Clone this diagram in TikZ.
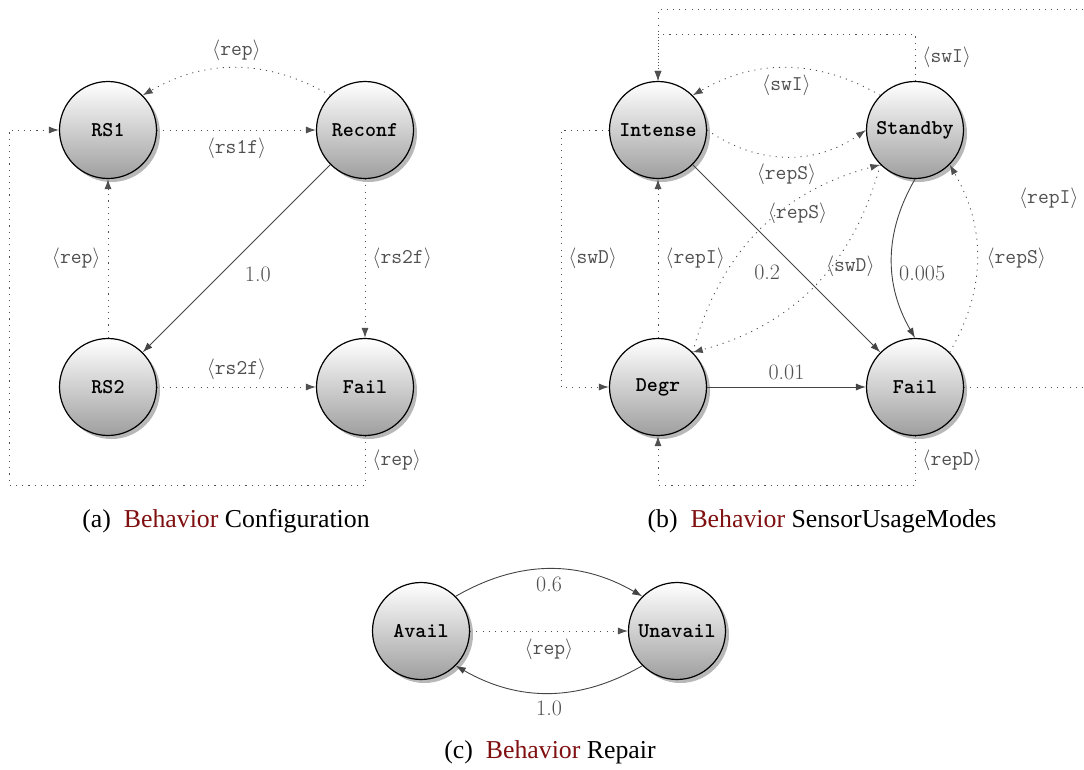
\documentclass[tikz,border=0pt]{standalone}
\usepackage{fontspec}
\newfontfamily\capfont{Liberation Serif}
\usetikzlibrary{arrows.meta,shadows}

\definecolor{behred}{RGB}{128,16,16}
\definecolor{edgegray}{RGB}{68,68,68}
\definecolor{lblgray}{RGB}{80,80,80}

\newcommand\lbfont{\fontsize{21}{25}\selectfont}
\newcommand\numfont{\fontsize{22}{26}\selectfont}
\newcommand\actlbl[1]{$\langle$\texttt{#1}$\rangle$}

\tikzset{
  state/.style={circle, draw=black, line width=1.2pt, minimum size=97pt, inner sep=0pt,
    top color=white, bottom color=black!38,
    drop shadow={shadow xshift=3.5pt, shadow yshift=-3.5pt, fill=black!28, opacity=1},
    font=\lbfont\ttfamily\bfseries},
  prob/.style={draw=edgegray, line width=0.9pt, -{Latex[length=10pt,width=7pt]}},
  act/.style={prob, draw=lblgray, dash pattern=on 1.1pt off 5.1pt},
  lbl/.style={text=lblgray, font=\lbfont, inner sep=7pt},
  num/.style={lbl, font=\numfont},
  captext/.style={font=\capfont\fontsize{25.8}{30}\selectfont, anchor=base},
}

\begin{document}
\begin{tikzpicture}[x=1pt, y=1pt]
\useasboundingbox (0,0) rectangle (1084,-769);
\clip (0,0) rectangle (1084,-769);

% ---------- (a) Configuration ----------
\node[state] (rs1)    at (108,-130) {RS1};
\node[state] (reconf) at (365,-130) {Reconf};
\node[state] (rs2)    at (108,-387) {RS2};
\node[state] (faila)  at (365,-387) {Fail};

\draw[act] (reconf.north west) to[bend right=30] node[lbl, above] {\actlbl{rep}} (rs1.north east);
\draw[act] (rs1) -- node[lbl, below] {\actlbl{rs1f}} (reconf);
\draw[prob] (reconf) -- node[num, below right, inner sep=8pt] {1.0} (rs2);
\draw[act] (reconf) -- node[lbl, right] {\actlbl{rs2f}} (faila);
\draw[act] (rs2) -- node[lbl, left] {\actlbl{rep}} (rs1);
\draw[act] (rs2) -- node[lbl, above] {\actlbl{rs2f}} (faila);
\coordinate (a1) at (365,-485);
\coordinate (a2) at (9,-485);
\draw[act] (faila.south) -- node[lbl, right] {\actlbl{rep}} (a1) -- (a2) |- (rs1.west);

\node[captext] (capa) at (226,-527) {(a)\hspace{0.5em}\textcolor{behred}{Behavior} Configuration};

% ---------- (b) SensorUsageModes ----------
\node[state] (intense) at (658,-130) {Intense};
\node[state] (standby) at (915,-130) {Standby};
\node[state] (degr)    at (658,-387) {Degr};
\node[state] (failb)   at (915,-387) {Fail};

\draw[act] (standby.north west) to[bend right=30] node[lbl, below] {\actlbl{swI}} (intense.north east);
\draw[act] (intense.east) to[bend right=35] node[lbl, below] {\actlbl{repS}} (standby.west);
\draw[prob] (intense) -- node[num, below left, inner sep=6pt] {0.2} (failb);
\draw[act] (degr.north east) to[bend left=30]
  node[lbl, pos=0.7, anchor=north, inner sep=4pt, xshift=-3pt] {\actlbl{repS}} (standby.south west);
\draw[act] (standby.south west) to[bend left=30]
  node[lbl, pos=0.4, anchor=west, inner sep=0pt, xshift=-6pt] {\actlbl{swD}} (degr.north east);
\draw[act] (degr) -- node[lbl, right] {\actlbl{repI}} (intense);
\draw[prob] (degr) -- node[num, above] {0.01} (failb);
\draw[prob] (standby.south) to[bend right=30]
  node[num, right, yshift=-15pt] {0.005} (failb.north);
\draw[act] (failb.north east) to[bend right=30]
  node[lbl, right, xshift=2pt] {\actlbl{repS}} (standby.south east);

\coordinate (b1) at (561,-130);
\coordinate (b2) at (561,-387);
\draw[act] (intense.west) -- (b1) -- node[lbl, right] {\actlbl{swD}} (b2) -- (degr.west);

\coordinate (b3) at (915,-485);
\coordinate (b4) at (658,-485);
\draw[act] (failb.south) -- node[lbl, right] {\actlbl{repD}} (b3) -- (b4) -- (degr.south);

\coordinate (b5) at (1086,-387);
\coordinate (b6) at (1086,-9.5);
\coordinate (b7) at (658,-9.5);
\draw[act] (failb.east) -- (b5) -- node[lbl, left] {\actlbl{repI}} (b6) -- (b7) -- (intense.north);

\coordinate (b8) at (915,-34);
\coordinate (b9) at (658,-34);
\draw[act] (standby.north) -- node[lbl, right] {\actlbl{swI}} (b8) -- (b9) -- (intense.north);

\node[captext] (capb) at (822,-527) {(b)\hspace{0.5em}\textcolor{behred}{Behavior} SensorUsageModes};

% ---------- (c) Repair ----------
\node[state] (avail)   at (421,-631) {Avail};
\node[state] (unavail) at (677,-631) {Unavail};

\draw[prob] (avail.north east) to[bend left=30] node[num, below] {0.6} (unavail.north west);
\draw[act] (avail) -- node[lbl, below] {\actlbl{rep}} (unavail);
\draw[prob] (unavail.south west) to[bend left=30] node[num, below] {1.0} (avail.south east);

\node[captext] (capc) at (550,-758) {(c)\hspace{0.5em}\textcolor{behred}{Behavior} Repair};
\end{tikzpicture}
\end{document}
